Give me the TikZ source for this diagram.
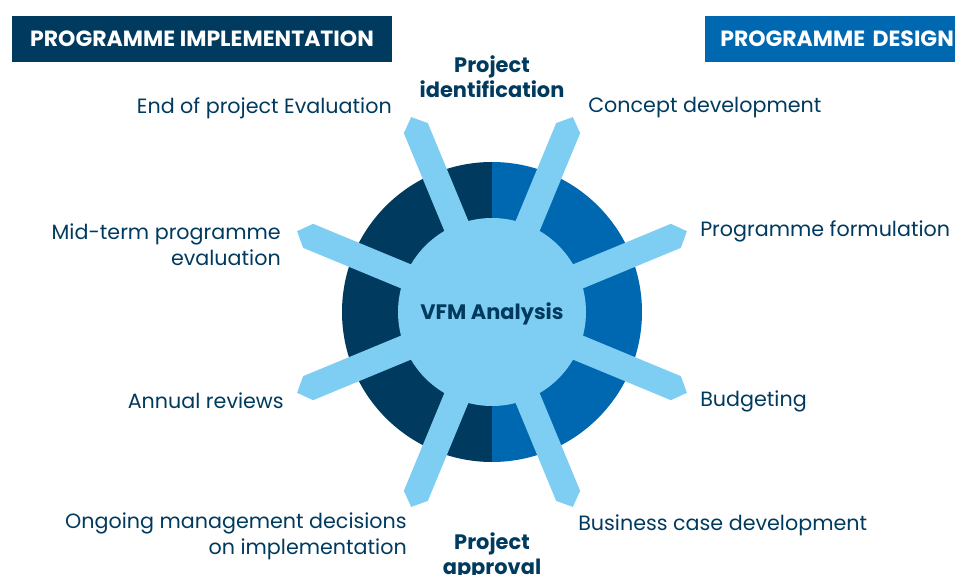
\documentclass[tikz,border=0pt]{standalone}
\usepackage{fontspec}
\setmainfont{Poppins}
\usepackage{tikz}
\definecolor{navy}{RGB}{0,58,94}
\definecolor{midblue}{RGB}{0,103,177}
\definecolor{sky}{RGB}{125,206,242}

\begin{document}
\begin{tikzpicture}[x=0.75pt, y=0.75pt,
  font=\fontsize{15.5}{19.5}\selectfont,
  lbl/.style={text=navy, inner sep=0pt},
  phase/.style={text=navy, inner sep=0pt, align=center,
                font=\fontsize{15.7}{19}\selectfont\bfseries},
  banner/.style={text=white, inner ysep=0pt, minimum height=34.5pt,
                 font=\fontsize{16.5}{18}\selectfont\bfseries}]
  \useasboundingbox (-492,-262) rectangle (463,312);

  % stage banners
  \node[banner, fill=navy, minimum width=285pt] (impl) at (-290,273)
        {PROGRAMME IMPLEMENTATION};
  \node[banner, fill=midblue, anchor=west, text width=240pt, align=left,
        inner xsep=11.25pt] (design) at (213,273) {PROGRAMME DESIGN};

  % outer ring: implementation half / design half
  \fill[navy] (0,0) -- (90:150) arc[start angle=90, end angle=270, radius=150] -- cycle;
  \fill[midblue] (0,0) -- (-90:150) arc[start angle=-90, end angle=90, radius=150] -- cycle;

  % hub and spokes
  \foreach \a in {22.5,67.5,...,337.5}
    \fill[sky, rotate=\a] (0,-13) -- (199,-13) -- (211,0) -- (199,13) -- (0,13) -- cycle;
  \fill[sky] (0,0) circle[radius=94];
  \node[phase] (vfm) at (0,-2) {VFM Analysis};

  \node[phase] (ident) at (0,235) {Project\\identification};
  \node[phase, anchor=north] (approv) at (0,-220) {Project\\approval};

  % design side
  \node[lbl, anchor=west] (concept) at (96,204) {Concept development};
  \node[lbl, anchor=west] (formul) at (208,81) {Programme formulation};
  \node[lbl, anchor=west] (budget) at (208,-89) {Budgeting};
  \node[lbl, anchor=west] (bcase) at (86,-213) {Business case development};

  % implementation side
  \node[lbl, anchor=east] (endeval) at (-100,204) {End of project Evaluation};
  \node[lbl, anchor=east, align=right] (midterm) at (-211,67)
        {Mid-term programme\\evaluation};
  \node[lbl, anchor=east] (annual) at (-208,-89) {Annual reviews};
  \node[lbl, anchor=east, align=right] (ongoing) at (-85,-224)
        {Ongoing management decisions\\on implementation};
\end{tikzpicture}
\end{document}
